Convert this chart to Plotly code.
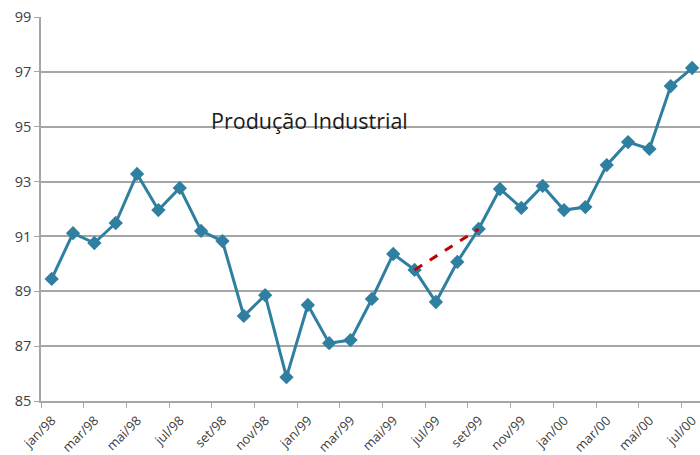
import plotly.graph_objects as go

months = ["jan/98","fev/98","mar/98","abr/98","mai/98","jun/98","jul/98","ago/98","set/98","out/98","nov/98","dez/98",
          "jan/99","fev/99","mar/99","abr/99","mai/99","jun/99","jul/99","ago/99","set/99","out/99","nov/99","dez/99",
          "jan/00","fev/00","mar/00","abr/00","mai/00","jun/00","jul/00"]
values = [89.45, 91.12, 90.76, 91.49, 93.28, 91.96, 92.77, 91.2, 90.83, 88.1, 88.86, 85.87,
          88.5, 87.11, 87.22, 88.72, 90.36, 89.78, 88.61, 90.07, 91.27, 92.73, 92.04, 92.84,
          91.96, 92.07, 93.6, 94.44, 94.19, 96.48, 97.14]
trend_idx = [17, 20]
y_ticks = [85, 87, 89, 91, 93, 95, 97, 99]

idx = list(range(len(months)))
label_idx = idx[::2]

fig = go.Figure()
fig.add_trace(go.Scatter(
    x=idx, y=values, mode="lines+markers",
    line=dict(color="#2F7FA0", width=3),
    marker=dict(symbol="diamond", size=11, color="#2F7FA0"),
    hoverinfo="skip", showlegend=False))
fig.add_trace(go.Scatter(
    x=trend_idx, y=[values[i] for i in trend_idx], mode="lines",
    line=dict(color="#C00000", width=3, dash="dash"),
    hoverinfo="skip", showlegend=False))

fig.add_annotation(text="Produção Industrial", xref="paper", yref="paper",
                   x=0.408, y=0.773, showarrow=False,
                   font=dict(family="Open Sans", size=21.5, color="#1a1a1a"))

fig.update_layout(
    width=700, height=455,
    margin=dict(l=41, r=0, t=17, b=54),
    paper_bgcolor="white", plot_bgcolor="white",
    font=dict(family="Open Sans", color="#404040"),
    xaxis=dict(range=[-0.5, 30.37], tickvals=[i - 0.5 for i in label_idx],
               ticktext=[months[i] for i in label_idx], tickangle=-45,
               ticklabelshift=11, automargin=False,
               ticks="outside", ticklen=5, tickcolor="#A6A6A6",
               showline=True, linecolor="#A6A6A6", linewidth=1.5,
               showgrid=False, zeroline=False,
               tickfont=dict(size=13, color="#404040")),
    yaxis=dict(range=[85, 99], tickvals=y_ticks, automargin=False,
               ticks="outside", ticklen=5, tickcolor="#A6A6A6",
               showline=True, linecolor="#A6A6A6", linewidth=1.5,
               showgrid=True, gridcolor="#A6A6A6", gridwidth=1.5,
               zeroline=False,
               tickfont=dict(size=14.5, color="#404040")),
)

fig.write_html("out.html")
